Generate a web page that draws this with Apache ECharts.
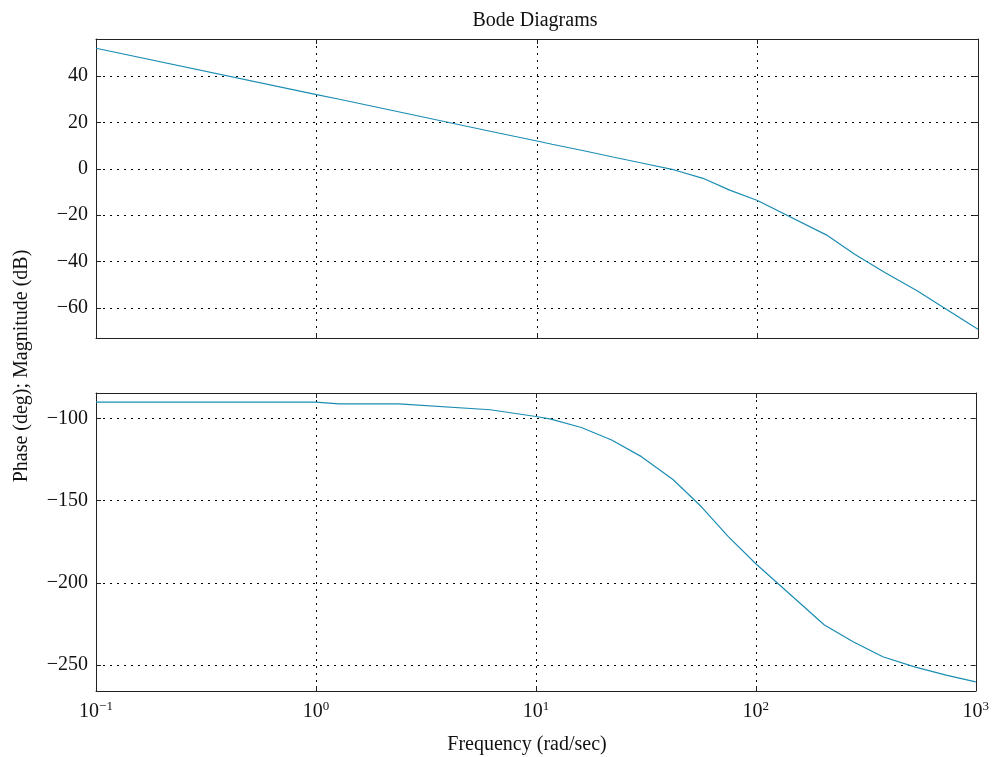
<!DOCTYPE html>
<html>
<head>
<meta charset="utf-8">
<script src="https://cdn.jsdelivr.net/npm/echarts@6/dist/echarts.min.js"></script>
<style>html,body{margin:0;padding:0;background:#fff}#c{width:992px;height:757px}</style>
</head>
<body>
<div id="c"></div>
<script>
// Frequencies (rad/sec) sampled in the reference
const freq = [0.1, 1, 1.27, 2.38, 6.2, 10, 11.7, 16.1, 22.1, 30.2, 42, 56.6, 74.8, 100, 205, 277, 378, 527, 733, 1000];
// Magnitude (dB)
const magnitude = [52, 32, 30, 24.5, 16.1, 12, 10.6, 7.9, 5.1, 2.4, -0.5, -4.1, -9.2, -13.7, -28.5, -37, -44.7, -52.5, -61.1, -69.2];
// Phase (deg)
const phase = [-90, -90, -91.1, -91.1, -94.7, -98.8, -100.4, -105.5, -113.1, -123.2, -137.1, -153.7, -171.7, -188.3, -225.6, -235.8, -244.9, -251, -256, -260.2];
const xTicks = ['10{e|−1}', '10{e|0}', '10{e|1}', '10{e|2}', '10{e|3}'];

const FONT = 'Liberation Serif';
const lineColor = '#1b8db3';
const gridDash = {color: '#000', width: 1, type: [2, 5]};
const axisLine = {show: true, onZero: false, lineStyle: {color: '#222', width: 1}};
const tick = {show: true, inside: true, length: 5, lineStyle: {color: '#222'}};
const fmtMinus = v => String(v).replace('-', '−');

function xAxes(gridIndex, showLabels) {
  const base = {type: 'log', logBase: 10, min: 0.1, max: 1000, gridIndex: gridIndex};
  return [
    Object.assign({}, base, {
      position: 'bottom', axisLine: axisLine, axisTick: tick,
      splitLine: {show: true, lineStyle: gridDash}, minorTick: {show: false},
      axisLabel: showLabels ? {
        show: true, margin: 9, fontFamily: FONT, fontSize: 20, color: '#111',
        formatter: function (v) {
          const e = Math.round(Math.log10(v));
          return xTicks[e + 1];
        },
        rich: {e: {fontSize: 13, fontFamily: FONT, color: '#111', verticalAlign: 'top', padding: [0, 0, 11, 0]}}
      } : {show: false}
    }),
    Object.assign({}, base, {
      position: 'top', axisLine: axisLine, axisTick: tick,
      splitLine: {show: false}, axisLabel: {show: false}
    })
  ];
}
function yAxes(gridIndex, min, max, splitNumber) {
  return [
    {type: 'value', gridIndex: gridIndex, min: min, max: max, splitNumber: splitNumber, position: 'left',
     axisLine: axisLine, axisTick: tick, splitLine: {show: true, lineStyle: gridDash},
     axisLabel: {show: true, margin: 8, fontFamily: FONT, fontSize: 20, color: '#111',
       showMinLabel: false, showMaxLabel: false, formatter: fmtMinus}},
    {type: 'value', gridIndex: gridIndex, min: min, max: max, splitNumber: splitNumber, position: 'right',
     axisLine: axisLine, axisTick: tick, splitLine: {show: false}, axisLabel: {show: false}}
  ];
}

const chart = echarts.init(document.getElementById('c'), null, {renderer: 'canvas'});
chart.setOption({
  animation: false,
  backgroundColor: '#fff',
  title: {text: 'Bode Diagrams', left: 530, top: 6, textAlign: 'center',
    textStyle: {fontFamily: FONT, fontSize: 20, fontWeight: 'normal', color: '#111'}},
  grid: [
    {left: 96, top: 39, width: 882, height: 299},
    {left: 96, top: 393, width: 882, height: 298}
  ],
  xAxis: xAxes(0, false).concat(xAxes(1, true)),
  yAxis: yAxes(0, -73, 56, 6).concat(yAxes(1, -265.7, -84.5, 4)),
  graphic: [{
    type: 'text', x: 22, y: 366, rotation: Math.PI / 2,
    style: {text: 'Phase (deg); Magnitude (dB)', fontFamily: FONT, fontSize: 20, fill: '#111',
      align: 'center', verticalAlign: 'middle'}
  }, {
    type: 'text', x: 527, y: 745,
    style: {text: 'Frequency (rad/sec)', fontFamily: FONT, fontSize: 20, fill: '#111',
      align: 'center', verticalAlign: 'middle'}
  }],
  series: [
    {type: 'line', xAxisIndex: 0, yAxisIndex: 0, showSymbol: false,
     lineStyle: {color: lineColor, width: 1.2},
     data: freq.map((f, i) => [f, magnitude[i]])},
    {type: 'line', xAxisIndex: 2, yAxisIndex: 2, showSymbol: false,
     lineStyle: {color: lineColor, width: 1.2},
     data: freq.map((f, i) => [f, phase[i]])}
  ]
});
</script>
</body>
</html>
